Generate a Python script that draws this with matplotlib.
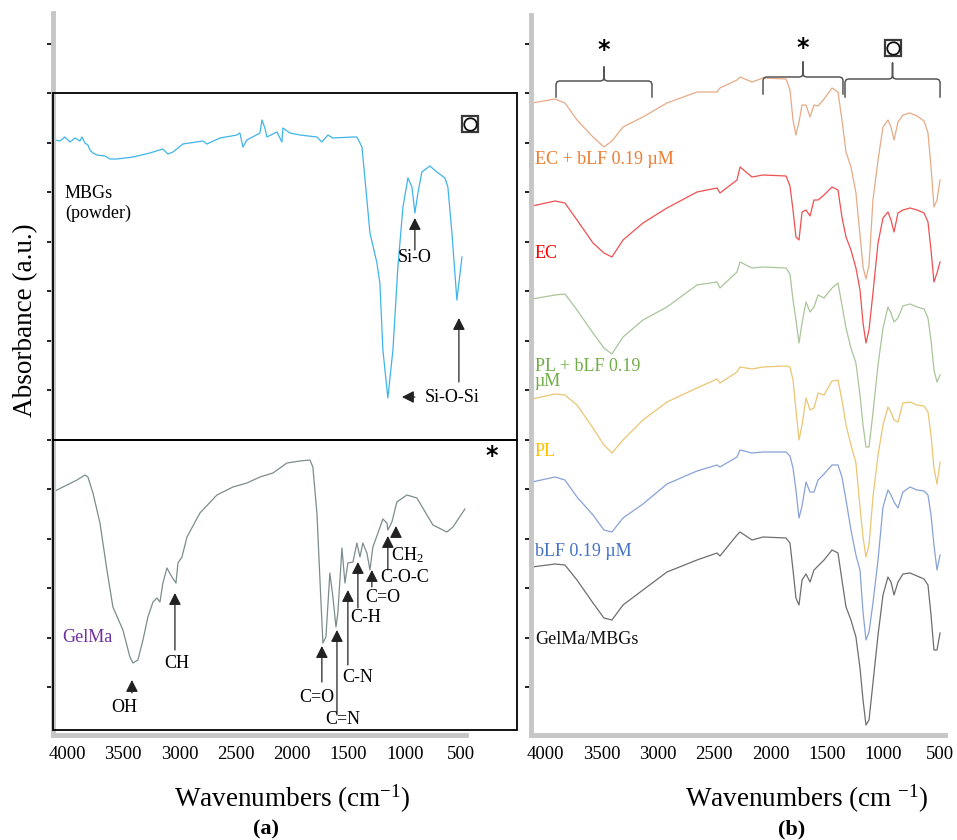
import numpy as np
import matplotlib.pyplot as plt
from matplotlib.ticker import MultipleLocator, FixedLocator

plt.rcParams['font.family'] = ['Liberation Serif', 'DejaVu Serif']
plt.rcParams['mathtext.fontset'] = 'custom'
plt.rcParams['mathtext.rm'] = 'Liberation Serif'
plt.rcParams['mathtext.it'] = 'Liberation Serif:italic'

# ---------------- data (a): single spectra ----------------
mbg_wn = [4107, 4062, 4018, 3973, 3929, 3885, 3867, 3840, 3814, 3796, 3769, 3734, 3663, 3618,
          3556, 3414, 3263, 3148, 3103, 3059, 2970, 2792, 2757, 2641, 2490, 2464, 2437, 2402,
          2286, 2268, 2242, 2224, 2135, 2091, 2082, 2020, 1931, 1780, 1736, 1682, 1638, 1460,
          1425, 1380, 1336, 1309, 1247, 1221, 1194, 1150, 1105, 1061, 1016, 972, 936, 910, 883,
          848, 777, 714, 643, 617, 581, 537, 519, 492]
mbg_abs = [547, 546, 550, 545, 549, 546, 550, 544, 542, 537, 534, 532, 531, 528,
           528, 530, 534, 538, 533, 535, 543, 546, 543, 549, 552, 554, 540, 547,
           554, 567, 559, 550, 555, 545, 559, 554, 552, 550, 545, 552, 549, 550,
           550, 540, 487, 454, 424, 404, 337, 289, 337, 420, 480, 509, 500, 474, 494,
           515, 521, 515, 509, 500, 454, 387, 404, 430]

gelma_wn = [4107, 3911, 3840, 3814, 3769, 3707, 3645, 3592, 3503, 3441, 3414, 3370, 3325, 3281,
            3236, 3201, 3174, 3148, 3112, 3068, 3032, 3014, 2979, 2934, 2819, 2668, 2526, 2402,
            2286, 2171, 2046, 1931, 1842, 1816, 1780, 1753, 1727, 1700, 1665, 1638, 1611, 1594,
            1558, 1531, 1505, 1460, 1425, 1398, 1372, 1336, 1309, 1283, 1238, 1194, 1158, 1150,
            1114, 1070, 981, 892, 750, 626, 572, 466]
gelma_abs = [196, 207, 212, 210, 194, 164, 117, 80, 57, 30, 24, 27, 47, 70,
             85, 89, 85, 104, 119, 110, 104, 124, 130, 150, 174, 192, 200, 204,
             210, 214, 224, 226, 227, 220, 174, 107, 44, 50, 114, 90, 60, 74,
             139, 104, 124, 125, 144, 130, 144, 134, 117, 140, 154, 168, 164, 157,
             165, 185, 192, 189, 162, 155, 160, 178]

# ---------------- data (b): stacked spectra ----------------
wn_b = [4115, 3911, 3823, 3716, 3574, 3477, 3406, 3308, 3131, 2918, 2652, 2474, 2448, 2297,
        2270, 2164, 2066, 1862, 1827, 1800, 1774, 1747, 1720, 1685, 1649, 1614, 1578, 1525,
        1454, 1401, 1366, 1330, 1286, 1242, 1206, 1179, 1153, 1126, 1091, 1046, 1002, 958,
        931, 904, 869, 825, 762, 700, 638, 603, 576, 550, 523, 496]
ec_blf = [584, 588, 584, 567, 550, 540, 546, 560, 570, 584, 595, 595, 599, 607,
          610, 605, 609, 608, 597, 567, 552, 565, 582, 582, 570, 582, 581, 588,
          599, 595, 567, 535, 520, 494, 452, 420, 408, 422, 487, 527, 560, 567,
          560, 547, 565, 572, 574, 571, 566, 554, 520, 480, 487, 507]
ec = [481, 486, 484, 467, 444, 434, 430, 447, 464, 479, 495, 499, 494, 507,
      520, 510, 512, 511, 501, 477, 450, 447, 475, 477, 471, 487, 487, 492,
      500, 497, 470, 450, 437, 419, 397, 364, 344, 357, 394, 444, 469, 475,
      467, 455, 474, 477, 479, 477, 474, 465, 437, 405, 414, 425]
pl_blf = [388, 392, 393, 377, 354, 339, 333, 350, 367, 380, 402, 405, 399, 415,
          425, 419, 420, 419, 413, 387, 367, 344, 364, 385, 375, 380, 392, 389,
          399, 404, 382, 359, 339, 324, 292, 262, 240, 240, 274, 322, 359, 380,
          374, 365, 369, 381, 383, 380, 378, 369, 347, 317, 305, 312]
pl = [288, 293, 292, 282, 259, 242, 234, 247, 267, 285, 299, 308, 304, 315,
      320, 318, 320, 321, 320, 307, 277, 247, 262, 289, 277, 279, 294, 292,
      306, 307, 287, 262, 242, 224, 180, 150, 130, 142, 190, 232, 262, 280,
      275, 267, 265, 284, 285, 282, 281, 275, 252, 219, 203, 225]
blf = [205, 210, 207, 190, 172, 157, 155, 169, 183, 203, 216, 222, 220, 230,
       237, 234, 235, 235, 231, 219, 197, 169, 181, 205, 195, 195, 207, 213,
       222, 222, 210, 187, 157, 132, 117, 75, 47, 55, 84, 127, 180, 197,
       192, 185, 179, 195, 200, 197, 196, 192, 172, 142, 117, 132]
gelma_mbg = [120, 123, 122, 107, 84, 69, 67, 82, 97, 115, 127, 134, 131, 152,
             155, 147, 150, 149, 144, 117, 89, 82, 107, 113, 105, 117, 121, 127,
             137, 134, 107, 80, 67, 50, 19, -13, -38, -33, 4, 52, 92, 110,
             105, 92, 105, 113, 114, 111, 108, 102, 72, 37, 37, 54]

series_b = [
    ('EC + bLF 0.19 µM', ec_blf, '#e6aa86', '#ed7d31', 528),
    ('EC', ec, '#ef5050', '#ff0000', 433),
    ('PL + bLF 0.19\nµM', pl_blf, '#a9c59a', '#70ad47', 313),
    ('PL', pl, '#ebc572', '#ffc000', 235),
    ('bLF 0.19 µM', blf, '#88a2d8', '#4472c4', 136),
    ('GelMa/MBGs', gelma_mbg, '#6e6e6e', '#111111', 48),
]

xticks = [4000, 3500, 3000, 2500, 2000, 1500, 1000, 500]

fig = plt.figure(figsize=(9.57, 8.4), dpi=100)
W, H = 957, 840


def px_axes(x0, y0, x1, y1):
    return fig.add_axes([x0 / W, 1 - y1 / H, (x1 - x0) / W, (y1 - y0) / H])


def style(ax, xmin, xmax, ymin, ymax, xend):
    ax.set_xlim(xmin, xmax)
    ax.set_ylim(ymin, ymax)
    ax.patch.set_alpha(0)
    for s in ['top', 'right']:
        ax.spines[s].set_visible(False)
    for s in ['left', 'bottom']:
        ax.spines[s].set_color('#c6c6c6')
        ax.spines[s].set_linewidth(3.5)
    ax.spines['bottom'].set_bounds(xmin, xend)
    ax.yaxis.set_major_locator(MultipleLocator(49.5))
    ax.yaxis.set_minor_locator(MultipleLocator(49.5 / 4))
    ax.set_xticks(xticks)
    ax.xaxis.set_minor_locator(FixedLocator(np.arange(500, 4101, 100)))
    ax.tick_params(axis='y', which='major', length=4, width=1.3, color='#111', direction='out', labelleft=False)
    ax.tick_params(axis='y', which='minor', length=1.5, width=1, color='#444', direction='out')
    ax.tick_params(axis='x', which='both', length=1.5, width=1, color='#444', direction='inout',
                   labelsize=13.5, pad=7)


def arrow(ax, tip, tail, lw=0.9):
    ax.annotate('', xy=tip, xytext=tail,
                arrowprops=dict(arrowstyle='-|>,head_length=0.55,head_width=0.28', lw=lw,
                                color='#222', shrinkA=0, shrinkB=0, mutation_scale=13))


def brace(ax, x0, x1, y, low, high):
    xm = (x0 + x1) / 2
    d = 30
    xs = [x0, x0, x0 - d * 0.3, x0 - d, xm + d, xm + d * 0.3, xm, xm, xm, xm - d * 0.3, xm - d,
          x1 + d, x1 + d * 0.3, x1, x1]
    ys = [low, y - 3, y - 0.8, y, y, y + 0.8, y + 3, high, y + 3, y + 0.8, y, y, y - 0.8, y - 3, low]
    ax.plot(xs, ys, color='#555555', lw=1.1, clip_on=False)


def box_symbol(ax, x, y):
    ax.plot([x], [y], marker='s', ms=11, mfc='none', mec='#3a3a3a', mew=1.6, clip_on=False)
    ax.plot([x], [y], marker='o', ms=9, mfc='none', mec='#111', mew=1.3, clip_on=False)


# ---------------- panel (a) ----------------
axa = px_axes(53, 13, 517, 735)
style(axa, 4124, 3, -48, 674, 460)
axa.add_patch(plt.Rectangle((4124, 247), -4121, 347, fill=False, ec='black', lw=1.3, zorder=3, clip_on=False))
axa.add_patch(plt.Rectangle((4124, -43), -4121, 290, fill=False, ec='black', lw=1.3, zorder=3, clip_on=False))
axa.plot(mbg_wn, mbg_abs, color='#3fb4ea', lw=0.9)
axa.plot(gelma_wn, gelma_abs, color='#7c8c8c', lw=0.9)

lab = dict(fontsize=13, va='center')
axa.text(4018, 494, 'MBGs', ha='left', **lab)
axa.text(4018, 474, '(powder)', ha='left', **lab)
axa.text(4044, 50, 'GelMa', ha='left', color='#7030a0', **lab)
box_symbol(axa, 421, 563)
axa.text(226, 231, '*', fontsize=17, fontweight='bold', ha='center', va='center', family='DejaVu Sans')

# MBGs bands
arrow(axa, (910, 469), (910, 437))
axa.text(910, 430, 'Si-O', ha='center', **lab)
arrow(axa, (1025, 290), (910, 290))
axa.text(821, 290, 'Si-O-Si', ha='left', **lab)
arrow(axa, (519, 369), (519, 305))

# GelMa bands: (label, arrow x, tip y, tail y, label x, label y)
bands = [
    ('OH', 3423, 7, -6, 3494, -20),
    ('CH', 3041, 94, 37, 3023, 24),
    ('C=O', 1736, 41, 5, 1780, -10),
    ('C=N', 1602, 57, -28, 1549, -33),
    ('C-N', 1505, 97, 22, 1416, 10),
    ('C-H', 1416, 125, 79, 1345, 70),
    ('C=O', 1292, 117, 100, 1194, 89),
    ('C-O-C', 1150, 151, 117, 999, 110),
    ('CH$_2$', 1078, 161, 150, 981, 132),
]
for name, bx, tip, tail, lx, ly in bands:
    arrow(axa, (bx, tip), (bx, tail))
    axa.text(lx, ly, name, ha='center', **lab)

axa.text(2002, -112, 'Wavenumbers (cm$^{-1}$)', fontsize=19.5, ha='center', va='center')
axa.text(2233, -142, '(a)', fontsize=16, fontweight='bold', ha='center', va='center')
fig.text(26 / W, 1 - 320 / H, 'Absorbance (a.u.)', rotation=90, fontsize=19.5, ha='center', va='center')

# ---------------- panel (b) ----------------
axb = px_axes(531, 15, 945, 735)
style(axb, 4124, 452, -48, 672, 452)
for name, vals, lc, tc, ty in series_b:
    axb.plot(wn_b, vals, color=lc, lw=0.9)
    axb.text(4089, ty, name, ha='left', color=tc, fontsize=13, va='center', linespacing=0.85)

brace(axb, 3902, 3051, 606, 590, 620)
brace(axb, 2066, 1357, 610, 593, 625)
brace(axb, 1339, 496, 608, 590, 624)
axb.text(3477, 637, '*', fontsize=17, fontweight='bold', ha='center', va='center', family='DejaVu Sans')
axb.text(1712, 639, '*', fontsize=17, fontweight='bold', ha='center', va='center', family='DejaVu Sans')
box_symbol(axb, 913, 639)

axb.text(1676, -112, 'Wavenumbers (cm $^{-1}$)', fontsize=19.5, ha='center', va='center')
axb.text(1809, -142, '(b)', fontsize=16, fontweight='bold', ha='center', va='center')

fig.savefig('out.png', dpi=100)
